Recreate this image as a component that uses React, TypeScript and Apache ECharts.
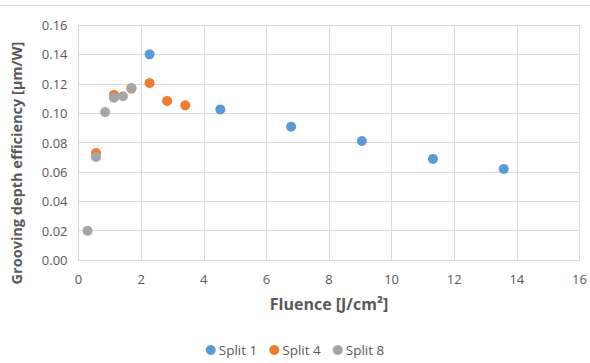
import React, { useEffect, useRef } from "react";
import * as echarts from "echarts";

const split1: [number, number][] = [
  [2.27, 0.140],
  [4.53, 0.1025],
  [6.79, 0.0908],
  [9.05, 0.0810],
  [11.32, 0.0688],
  [13.58, 0.0620],
];
const split4: [number, number][] = [
  [0.56, 0.0728],
  [1.13, 0.1125],
  [1.69, 0.1167],
  [2.27, 0.1205],
  [2.83, 0.1083],
  [3.41, 0.1053],
];
const split8: [number, number][] = [
  [0.29, 0.0199],
  [0.56, 0.0701],
  [0.85, 0.1007],
  [1.13, 0.1105],
  [1.42, 0.1115],
  [1.69, 0.1171],
];
const seriesNames = ["Split 1", "Split 4", "Split 8"];
const colors = ["#5B9BD5", "#ED7D31", "#A5A5A5"];

const FONT = "'Open Sans', 'Noto Sans', sans-serif";
const GRAY = "#595959";

export default function App() {
  const ref = useRef<HTMLDivElement>(null);
  useEffect(() => {
    if (!ref.current) return;
    const chart = echarts.init(ref.current, null, { renderer: "svg" });
    const data = [split1, split4, split8];
    chart.setOption({
      animation: false,
      textStyle: { fontFamily: FONT },
      grid: { left: 78.5, right: 10.5, top: 25, bottom: 103, containLabel: false },
      xAxis: {
        type: "value",
        min: 0,
        max: 16,
        interval: 2,
        name: "Fluence [J/cm²]",
        nameLocation: "middle",
        nameGap: 36,
        nameTextStyle: { fontFamily: FONT, fontSize: 16, fontWeight: "bold", color: GRAY },
        axisLine: { show: true, lineStyle: { color: "#D9D9D9", width: 1 } },
        axisTick: { show: false },
        axisLabel: { fontFamily: FONT, fontSize: 13, color: GRAY, margin: 12 },
        splitLine: { show: true, lineStyle: { color: "#D9D9D9", width: 1 } },
      },
      yAxis: {
        type: "value",
        min: 0,
        max: 0.16,
        interval: 0.02,
        axisLine: { show: true, lineStyle: { color: "#D9D9D9", width: 1 } },
        axisTick: { show: false },
        axisLabel: {
          fontFamily: FONT,
          fontSize: 13,
          color: GRAY,
          margin: 11,
          formatter: (v: number) => v.toFixed(2),
        },
        splitLine: { show: true, lineStyle: { color: "#D9D9D9", width: 1 } },
      },
      legend: {
        bottom: 1,
        left: "center",
        itemWidth: 10,
        itemHeight: 10,
        itemGap: 12,
        icon: "circle",
        data: seriesNames,
        textStyle: { fontFamily: FONT, fontSize: 13.5, color: GRAY, padding: [0, 0, 0, -2] },
      },
      graphic: [
        {
          type: "line",
          shape: { x1: 0, y1: 5.5, x2: 590, y2: 5.5 },
          style: { stroke: "#D9D9D9", lineWidth: 1 },
        },
        {
          type: "text",
          x: 16,
          y: 163,
          rotation: Math.PI / 2,
          style: {
            text: "Grooving depth efficiency [µm/W]",
            fontFamily: FONT,
            fontSize: 14.5,
            fontWeight: "bold",
            fill: GRAY,
            align: "center",
            verticalAlign: "middle",
          },
        },
      ],
      series: seriesNames.map((n, i) => ({
        name: n,
        type: "scatter",
        data: data[i],
        symbol: "circle",
        symbolSize: 10,
        itemStyle: { color: colors[i], opacity: 1 },
        z: 2 + i,
      })),
    });
    return () => chart.dispose();
  }, []);
  return <div ref={ref} style={{ width: 590, height: 363, position: "absolute", left: 0, top: 0 }} />;
}
